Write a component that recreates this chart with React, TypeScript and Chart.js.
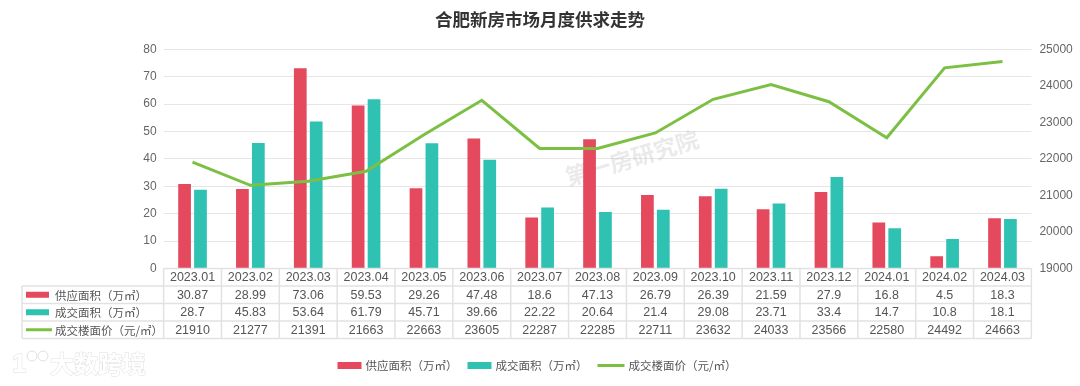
import React, { useEffect, useRef } from "react";
import { Chart, registerables } from "chart.js";

Chart.register(...registerables);

const categories = ["2023.01","2023.02","2023.03","2023.04","2023.05","2023.06","2023.07","2023.08","2023.09","2023.10","2023.11","2023.12","2024.01","2024.02","2024.03"];
const supplyArea = [30.87,28.99,73.06,59.53,29.26,47.48,18.6,47.13,26.79,26.39,21.59,27.9,16.8,4.5,18.3];
const dealArea = [28.7,45.83,53.64,61.79,45.71,39.66,22.22,20.64,21.4,29.08,23.71,33.4,14.7,10.8,18.1];
const dealPrice = [21910,21277,21391,21663,22663,23605,22287,22285,22711,23632,24033,23566,22580,24492,24663];
const seriesNames = ["供应面积（万㎡）", "成交面积（万㎡）", "成交楼面价（元/㎡）"];
const titleText = "合肥新房市场月度供求走势";
const watermarkText = "第一房研究院";
const logoText = "大数跨境";

const RED = "#e5495e";
const TEAL = "#2fc2b3";
const GREEN = "#7cc043";
const NUM_FONT = "'Liberation Sans', Arial, 'Noto Sans CJK SC', sans-serif";
const CJK_FONT = "'Noto Sans CJK SC', 'Liberation Sans', sans-serif";

function drawSwatch(ctx: CanvasRenderingContext2D, kind: number, x: number, yc: number, w: number, h: number) {
  if (kind === 2) {
    ctx.strokeStyle = GREEN;
    ctx.lineWidth = 3;
    ctx.beginPath();
    ctx.moveTo(x, yc);
    ctx.lineTo(x + w, yc);
    ctx.stroke();
  } else {
    ctx.fillStyle = kind === 0 ? RED : TEAL;
    ctx.fillRect(x, yc - h / 2, w, h);
  }
}

const extrasPlugin = {
  id: "extras",
  beforeDatasetsDraw(chart: any) {
    const ctx: CanvasRenderingContext2D = chart.ctx;
    ctx.save();
    ctx.translate(632, 158);
    ctx.rotate(-0.29);
    ctx.font = `bold 23px ${CJK_FONT}`;
    ctx.fillStyle = "rgba(190,190,190,0.32)";
    ctx.textAlign = "center";
    ctx.textBaseline = "middle";
    ctx.fillText(watermarkText, 0, 0);
    ctx.restore();
  },
  afterDraw(chart: any) {
    const ctx: CanvasRenderingContext2D = chart.ctx;
    const xs = chart.scales.x;
    const ys = chart.scales.y;
    const left = xs.left;
    const right = xs.right;
    const n = categories.length;
    const cw = (right - left) / n;
    const top = ys.bottom;
    const rh = 17.5;
    const tableLeft = 22;
    ctx.save();

    // title
    ctx.font = `bold 17.5px ${CJK_FONT}`;
    ctx.fillStyle = "#333";
    ctx.textAlign = "center";
    ctx.textBaseline = "middle";
    ctx.fillText(titleText, 540, 19.5);

    // table grid
    ctx.strokeStyle = "#e2e2e2";
    ctx.lineWidth = 1.5;
    ctx.beginPath();
    ctx.moveTo(left, top);
    ctx.lineTo(right, top);
    for (let r = 1; r <= 4; r++) {
      ctx.moveTo(tableLeft, top + r * rh);
      ctx.lineTo(right, top + r * rh);
    }
    for (let i = 0; i <= n; i++) {
      const x = left + i * cw;
      ctx.moveTo(x, top);
      ctx.lineTo(x, top + 4 * rh);
    }
    ctx.moveTo(tableLeft, top + rh);
    ctx.lineTo(tableLeft, top + 4 * rh);
    ctx.stroke();

    // table texts
    ctx.font = `12.5px ${NUM_FONT}`;
    ctx.fillStyle = "#555";
    ctx.textAlign = "center";
    ctx.textBaseline = "middle";
    const rows = [categories, supplyArea.map(String), dealArea.map(String), dealPrice.map(String)];
    rows.forEach((row, r) => {
      row.forEach((txt, i) => {
        ctx.fillText(txt, xs.getPixelForValue(i), top + r * rh + rh / 2 + 0.5);
      });
    });

    // left column labels
    ctx.textAlign = "left";
    for (let k = 0; k < 3; k++) {
      const yc = top + (k + 1) * rh + rh / 2;
      drawSwatch(ctx, k, 26, yc, k === 2 ? 26 : 23, 6);
      ctx.font = `11.5px ${CJK_FONT}`;
      ctx.fillStyle = "#555";
      ctx.fillText(seriesNames[k], 55, yc + 0.5);
    }

    // bottom legend
    ctx.font = `11.5px ${CJK_FONT}`;
    const sw = [24, 24, 27];
    const gapSw = 4;
    const gapItem = 10;
    const widths = seriesNames.map((s) => ctx.measureText(s).width);
    let total = 0;
    for (let k = 0; k < 3; k++) total += sw[k] + gapSw + widths[k] + (k < 2 ? gapItem : 0);
    let lx = 537 - total / 2;
    const ly = 365.5;
    for (let k = 0; k < 3; k++) {
      drawSwatch(ctx, k, lx, ly, sw[k], 7);
      lx += sw[k] + gapSw;
      ctx.fillStyle = "#555";
      ctx.textAlign = "left";
      ctx.textBaseline = "middle";
      ctx.fillText(seriesNames[k], lx, ly + 0.5);
      lx += widths[k] + gapItem;
    }

    // bottom-left logo watermark
    ctx.font = `bold 24px ${CJK_FONT}`;
    ctx.lineWidth = 1;
    ctx.strokeStyle = "#e0e0e0";
    ctx.fillStyle = "#ffffff";
    ctx.textAlign = "left";
    ctx.textBaseline = "middle";
    ctx.strokeText(logoText, 50, 364);
    ctx.fillText(logoText, 50, 364);
    ctx.font = `bold 26px ${NUM_FONT}`;
    ctx.strokeText("1", 12, 365);
    ctx.fillText("1", 12, 365);
    ctx.beginPath();
    ctx.arc(32, 356, 5, 0, Math.PI * 2);
    ctx.moveTo(48, 356);
    ctx.arc(43, 356, 5, 0, Math.PI * 2);
    ctx.stroke();
    ctx.restore();
  },
};

export default function App() {
  const ref = useRef<HTMLCanvasElement | null>(null);
  useEffect(() => {
    document.body.style.margin = "0";
    const canvas = ref.current;
    if (!canvas) return;
    const chart = new Chart(canvas, {
      type: "bar",
      data: {
        labels: categories,
        datasets: [
          {
            type: "line",
            label: seriesNames[2],
            data: dealPrice,
            yAxisID: "y1",
            borderColor: GREEN,
            backgroundColor: GREEN,
            borderWidth: 3,
            pointRadius: 0,
            tension: 0,
            order: 0,
          } as any,
          {
            type: "bar",
            label: seriesNames[0],
            data: supplyArea,
            yAxisID: "y",
            backgroundColor: RED,
            barPercentage: 0.8,
            categoryPercentage: 0.55,
            order: 1,
          },
          {
            type: "bar",
            label: seriesNames[1],
            data: dealArea,
            yAxisID: "y",
            backgroundColor: TEAL,
            barPercentage: 0.8,
            categoryPercentage: 0.55,
            order: 1,
          },
        ],
      },
      options: {
        responsive: false,
        animation: false,
        devicePixelRatio: 1,
        layout: { padding: { top: 49.3, bottom: 117.5, left: 0, right: 0 } },
        plugins: {
          legend: { display: false },
          title: { display: false },
          tooltip: { enabled: false },
        },
        scales: {
          x: {
            display: false,
            offset: true,
          },
          y: {
            position: "left",
            min: 0,
            max: 80,
            ticks: {
              stepSize: 10,
              padding: 7,
              color: "#666",
              font: { size: 12, family: NUM_FONT },
            },
            grid: { color: "#e6e6e6", drawTicks: false, lineWidth: 1 },
            border: { display: false },
            afterFit: (s: any) => {
              s.width = 163.6;
            },
          },
          y1: {
            position: "right",
            min: 19000,
            max: 25000,
            ticks: {
              stepSize: 1000,
              padding: 8,
              color: "#666",
              font: { size: 12, family: NUM_FONT },
              callback: (v: any) => String(v),
            },
            grid: { display: false, drawTicks: false },
            border: { display: false },
            afterFit: (s: any) => {
              s.width = 48.6;
            },
          },
        },
      },
      plugins: [extrasPlugin],
    });
    return () => chart.destroy();
  }, []);
  return (
    <div style={{ width: 1080, height: 386, background: "#fff" }}>
      <canvas ref={ref} width={1080} height={386} style={{ display: "block" }} />
    </div>
  );
}
